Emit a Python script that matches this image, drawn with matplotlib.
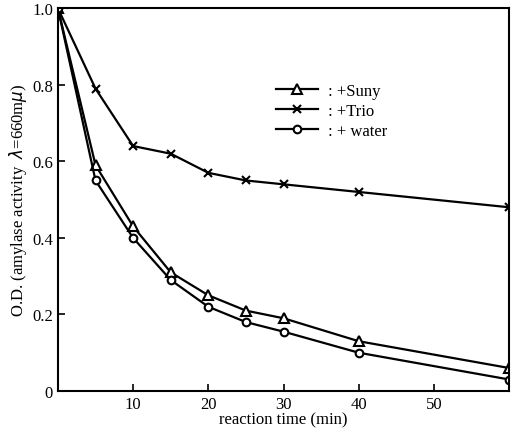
import matplotlib
matplotlib.use("Agg")
import matplotlib.pyplot as plt

time = [0, 5, 10, 15, 20, 25, 30, 40, 60]
suny = [1.0, 0.59, 0.43, 0.31, 0.25, 0.21, 0.19, 0.13, 0.06]
trio = [1.0, 0.79, 0.64, 0.62, 0.57, 0.55, 0.54, 0.52, 0.48]
water = [1.0, 0.55, 0.40, 0.29, 0.22, 0.18, 0.155, 0.10, 0.03]
labels = [": +Suny", ": +Trio", ": + water"]
xticks = [10, 20, 30, 40, 50]
yticks = [0, 0.2, 0.4, 0.6, 0.8, 1.0]
yticklabels = ["0", "0.2", "0.4", "0.6", "0.8", "1.0"]

plt.rcParams['font.family'] = ['Liberation Serif', 'DejaVu Serif']

fig = plt.figure(figsize=(5.17, 4.31), dpi=100)
ax = fig.add_axes([0.112, 0.0905, 0.873, 0.888])

ax.plot(time, suny, color='black', lw=1.6, marker='^', ms=7, mfc='white', mec='black', mew=1.5, label=labels[0])
ax.plot(time, trio, color='black', lw=1.6, marker='x', ms=6, mec='black', mew=1.5, label=labels[1])
ax.plot(time, water, color='black', lw=1.6, marker='o', ms=5.5, mfc='white', mec='black', mew=1.5, label=labels[2])

ax.set_xlim(0, 60)
ax.set_ylim(0, 1.0)
ax.set_xticks(xticks)
ax.set_xticklabels([str(t) for t in xticks])
ax.set_yticks(yticks)
ax.set_yticklabels(yticklabels)
ax.tick_params(direction='in', length=5, width=1.2, labelsize=12, colors='black')
for s in ax.spines.values():
    s.set_linewidth(1.5)

ax.set_xlabel("reaction time (min)", fontsize=12, labelpad=0)
ax.set_ylabel("O.D. (amylase activity  $\\lambda$=660m$\\mu$)", fontsize=12, labelpad=2)

ax.legend(loc='upper left', bbox_to_anchor=(0.45, 0.845), frameon=False, fontsize=12,
          handlelength=2.5, labelspacing=0.25, handletextpad=0.6)

fig.savefig("out.png", dpi=100)
